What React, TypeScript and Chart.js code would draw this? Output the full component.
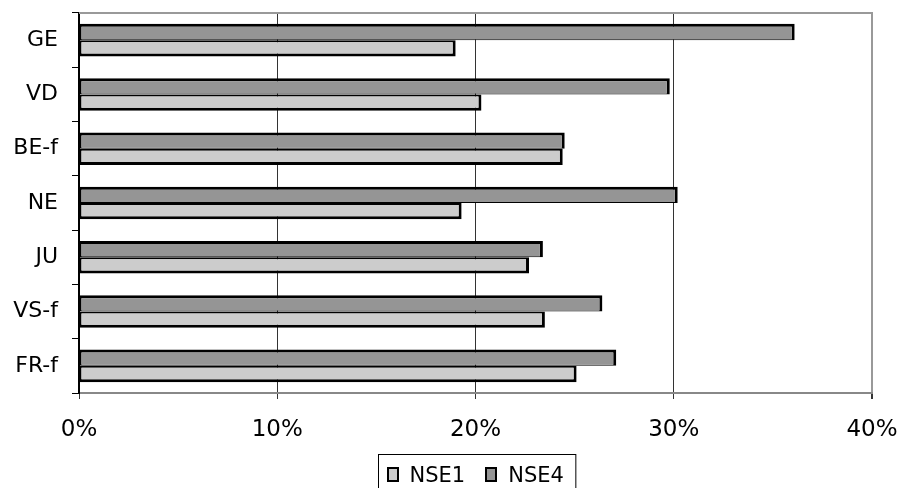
import React, { useEffect, useRef } from "react";
import { Chart, registerables } from "chart.js";

Chart.register(...registerables);

// Regions and the share per survey wave (percent)
const categories = ["GE", "VD", "BE-f", "NE", "JU", "VS-f", "FR-f"];
const nse1 = [19.0, 20.3, 24.4, 19.3, 22.7, 23.5, 25.1];
const nse4 = [36.1, 29.8, 24.5, 30.2, 23.4, 26.4, 27.1];
const xTicks = [0, 10, 20, 30, 40];
const seriesNames = ["NSE1", "NSE4"];
const seriesColors = ["#cccccc", "#959595"];

const FONT = "'DejaVu Sans', Verdana, sans-serif";

// Boxed legend under the plot, like a spreadsheet chart key
const boxedLegend = {
  id: "boxedLegend",
  afterDraw(chart: any) {
    const { ctx, chartArea } = chart;
    ctx.save();
    ctx.font = `21px ${FONT}`;
    const sqW = 12;
    const sqH = 15;
    const gap = 11;
    const itemGap = 20;
    const pad = 8;
    const widths = seriesNames.map((n) => ctx.measureText(n).width);
    const content =
      widths.reduce((a, w) => a + sqW + gap + w, 0) + itemGap * (seriesNames.length - 1);
    const boxW = content + pad * 2 + 4;
    const cx = (chartArea.left + chartArea.right) / 2 + 1.5;
    const left = Math.round(cx - boxW / 2) + 0.5;
    const top = chartArea.bottom + 61.5;
    ctx.strokeStyle = "#000";
    ctx.lineWidth = 1;
    ctx.strokeRect(left, top, boxW, 40);

    let x = left + pad;
    const sqTop = top + 12;
    const baseline = top + 27.5;
    seriesNames.forEach((name, i) => {
      ctx.fillStyle = "#000";
      ctx.fillRect(Math.round(x), Math.round(sqTop), sqW, sqH);
      ctx.fillStyle = seriesColors[i];
      ctx.fillRect(Math.round(x) + 2, Math.round(sqTop) + 2, sqW - 4, sqH - 4);
      x += sqW + gap;
      ctx.fillStyle = "#000";
      ctx.textBaseline = "alphabetic";
      ctx.textAlign = "left";
      ctx.fillText(name, x, baseline);
      x += widths[i] + itemGap;
    });
    ctx.restore();
  },
};

// Grey frame line along the top of the plot area
const topFrame = {
  id: "topFrame",
  beforeDatasetsDraw(chart: any) {
    const { ctx, chartArea } = chart;
    ctx.save();
    ctx.strokeStyle = "#999";
    ctx.lineWidth = 2;
    ctx.beginPath();
    ctx.moveTo(chartArea.left, chartArea.top);
    ctx.lineTo(chartArea.right + 1, chartArea.top);
    ctx.stroke();
    ctx.restore();
  },
};

export default function App() {
  const canvasRef = useRef<HTMLCanvasElement | null>(null);

  useEffect(() => {
    const canvas = canvasRef.current;
    if (!canvas) return;
    const chart = new Chart(canvas, {
      type: "bar",
      data: {
        labels: categories,
        datasets: [
          {
            label: seriesNames[1],
            data: nse4,
            backgroundColor: seriesColors[1],
            borderColor: "#000",
            borderWidth: { top: 3, right: 3, bottom: 1, left: 2 },
            borderSkipped: false,
            categoryPercentage: 0.6,
            barPercentage: 1,
          },
          {
            label: seriesNames[0],
            data: nse1,
            backgroundColor: seriesColors[0],
            borderColor: "#000",
            borderWidth: { top: 2, right: 3, bottom: 3, left: 2 },
            borderSkipped: false,
            categoryPercentage: 0.6,
            barPercentage: 1,
          },
        ],
      },
      options: {
        indexAxis: "y",
        animation: false,
        responsive: false,
        devicePixelRatio: 1,
        layout: { padding: { left: 0, right: 29, top: 13, bottom: 45 } },
        plugins: {
          legend: { display: false },
          tooltip: { enabled: false },
        },
        scales: {
          x: {
            type: "linear",
            position: "bottom",
            min: 0,
            max: 40,
            afterBuildTicks: (s: any) => {
              s.ticks = xTicks.map((v) => ({ value: v }));
            },
            afterFit: (s: any) => {
              s.height = 50;
              s.paddingLeft = 0;
              s.paddingRight = 0;
            },
            ticks: {
              color: "#000",
              padding: 17,
              font: { family: FONT, size: 23 },
              callback: (v: any) => `${v}%`,
            },
            grid: {
              color: (c: any) =>
                c.tick && c.tick.value === 0
                  ? "rgba(0,0,0,0)"
                  : c.tick && c.tick.value === 40
                  ? "#999"
                  : "#333",
              lineWidth: (c: any) => (c.tick && c.tick.value === 40 ? 2 : 1),
              tickColor: "#333",
              tickLength: 6,
              drawTicks: true,
            },
            border: { display: true, color: "#888", width: 2 },
          },
          y: {
            type: "category",
            afterFit: (s: any) => {
              s.width = 79;
              s.paddingTop = 0;
              s.paddingBottom = 0;
            },
            ticks: {
              color: "#000",
              padding: 14,
              font: { family: FONT, size: 22 },
            },
            grid: {
              offset: true,
              drawOnChartArea: false,
              drawTicks: true,
              tickLength: 7,
              color: "#000",
              lineWidth: 1,
            },
            border: { display: true, color: "#000", width: 2 },
          },
        },
      },
      plugins: [topFrame, boxedLegend],
    });
    return () => chart.destroy();
  }, []);

  return (
    <div style={{ position: "fixed", left: 0, top: 0, width: 901, height: 488, background: "#fff" }}>
      <canvas ref={canvasRef} width={901} height={488} />
    </div>
  );
}
